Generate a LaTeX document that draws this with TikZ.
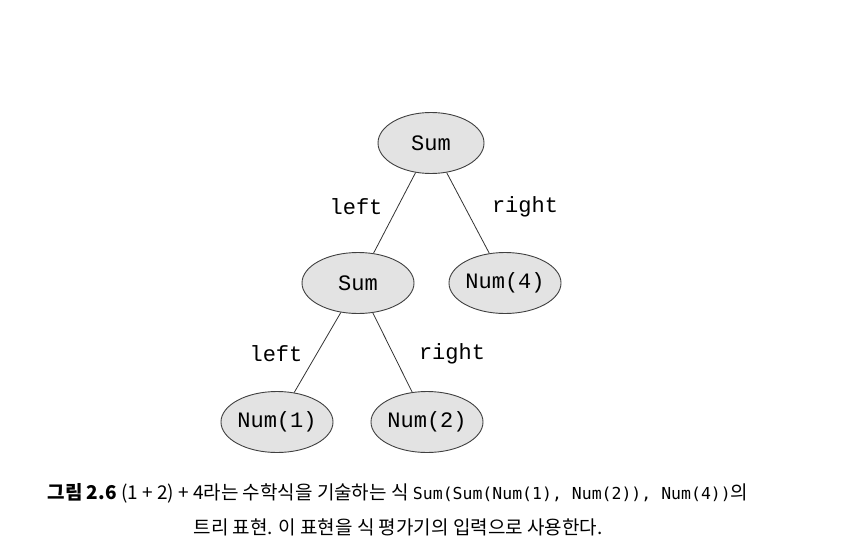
\documentclass[tikz,border=0pt]{standalone}
\usepackage{fontspec}
\setmonofont{Liberation Mono}
\newfontfamily\krfont{Noto Sans CJK KR}
\newfontfamily\capmono{DejaVu Sans Mono}
\usetikzlibrary{shapes.geometric}
\tikzset{
	treenode/.style={ellipse, draw=black!75, line width=0.9pt, fill=gray!22, minimum width=106pt, minimum height=61pt, inner sep=0pt, font=\ttfamily\fontsize{22}{24}\selectfont},
	edgelbl/.style={font=\ttfamily\fontsize{22}{24}\selectfont},
	captxt/.style={font=\krfont\fontsize{19}{22}\selectfont}
}
\begin{document}
\begin{tikzpicture}[x=1pt,y=1pt]
		\useasboundingbox (0,0) rectangle (842,558);
		\node[treenode] (S0) at (431,415) {Sum};
		\node[treenode, minimum width=112pt] (S1) at (358,275) {Sum};
		\node[treenode, minimum width=100pt] (N4) at (505,275) {Num(4)};
		\node[treenode, minimum width=110pt] (N1) at (277,136) {Num(1)};
		\node[treenode, minimum width=102pt] (N2) at (427,136) {Num(2)};
		\draw[black!80, line width=0.8pt] (S0) -- (S1);
		\draw[black!80, line width=0.8pt] (S0) -- (N4);
		\draw[black!80, line width=0.8pt] (S1) -- (N1);
		\draw[black!80, line width=0.8pt] (S1) -- (N2);
		\node[edgelbl] (L0) at (356,351) {left};
		\node[edgelbl] (R0) at (525,351) {right};
		\node[edgelbl] (L1) at (276,204) {left};
		\node[edgelbl] (R1) at (452,204) {right};
		\node[captxt] (cap1) at (398,65) {\textbf{그림 2.6} (1 + 2) + 4라는 수학식을 기술하는 식 {\capmono\fontsize{16.5}{22}\selectfont Sum(Sum(Num(1), Num(2)), Num(4))}의};
		\node[captxt] (cap2) at (398,31) {트리 표현. 이 표현을 식 평가기의 입력으로 사용한다.};
\end{tikzpicture}
\end{document}
